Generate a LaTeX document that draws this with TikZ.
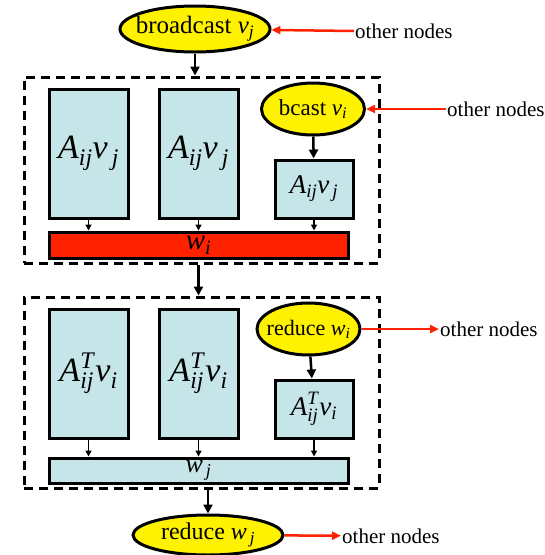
\documentclass[tikz,border=0pt]{standalone}
\usepackage{amsmath}
\usepackage{fontspec}
\setmainfont{Liberation Serif}
\usepackage{xcolor}
\usepackage{tikz}
\usetikzlibrary{shapes.geometric, arrows.meta, positioning}

\definecolor{cellblue}{HTML}{C5E5E8}
\definecolor{hotred}{HTML}{FF2200}
\newcommand{\ti}[1]{\text{\textit{#1}}}
\newcommand{\fs}[1]{\fontsize{#1}{#1}\selectfont}

\begin{document}
\begin{tikzpicture}[
			x=1pt, y=-1pt,
			cell/.style={draw, rectangle, line width=3pt, fill=cellblue, inner sep=0pt},
			bubble/.style={ellipse, draw, line width=3pt, fill=yellow, inner xsep=-10pt, inner ysep=0pt},
			group/.style={draw, rectangle, line width=3pt, dash pattern=on 9pt off 6pt},
			tag/.style={inner sep=1pt, font=\fs{21}},
			link/.style={-{Triangle[length=9pt, width=9pt]}, line width=2.5pt},
			feed/.style={-{Triangle[length=6pt, width=6pt]}, line width=1.5pt},
			remote/.style={-{Triangle[length=9pt, width=8pt]}, line width=2.5pt, hotred}
			]
			\useasboundingbox (0,0) rectangle (545,555);
			
			% Nodes
			\node (bcast_top) [bubble, minimum width=150pt, minimum height=46pt] at (195,29) {\fs{25}broadcast \textit{v}\textsubscript{\textit{j}}};
			\node (other_top) [tag, anchor=west] at (354,31) {other nodes};
			
			\node (group1) [group, minimum width=355pt, minimum height=186pt] at (201.5,170) {};
			\node (mult1) [cell, minimum width=79pt, minimum height=129pt] at (88.5,153.5) {\fs{34}$\ti{A}_{\ti{ij}}\ti{v}_{\,\ti{j}}$};
			\node (mult2) [cell, minimum width=79pt, minimum height=129pt] at (198.5,153.5) {\fs{34}$\ti{A}_{\ti{ij}}\ti{v}_{\,\ti{j}}$};
			\node (bcast_mid) [bubble, minimum width=103pt, minimum height=52pt] at (313,109) {\fs{23}bcast \textit{v}\textsubscript{\textit{i}}};
			\node (mult3) [cell, minimum width=78pt, minimum height=58pt] at (314,189) {\fs{27}$\ti{A}_{\ti{ij}}\ti{v}_{\,\ti{j}}$};
			\node (sum1) [cell, fill=hotred, minimum width=299pt, minimum height=26pt] at (198.5,245) {\fs{29}\textit{w}\textsubscript{\textit{i}}};
			\node (other_mid) [tag, anchor=west] at (446,109) {other nodes};
			
			\node (group2) [group, minimum width=355pt, minimum height=191pt] at (201.5,392.5) {};
			\node (trans1) [cell, minimum width=79pt, minimum height=129pt] at (88.5,373.5) {\fs{34}$\ti{A}_{\ti{ij}}^{\ti{T}}\ti{v}_{\ti{i}}$};
			\node (trans2) [cell, minimum width=79pt, minimum height=129pt] at (198.5,373.5) {\fs{34}$\ti{A}_{\ti{ij}}^{\ti{T}}\ti{v}_{\ti{i}}$};
			\node (reduce_mid) [bubble, minimum width=103pt, minimum height=52pt] at (308.5,329) {\fs{22}reduce \textit{w}\textsubscript{\textit{i}}};
			\node (trans3) [cell, minimum width=78pt, minimum height=58pt] at (314,409) {\fs{27}$\ti{A}_{\ti{ij}}^{\ti{T}}\ti{v}_{\ti{i}}$};
			\node (sum2) [cell, minimum width=299pt, minimum height=25pt] at (198.5,470.5) {\fs{26}\textit{w}\textsubscript{\,\textit{j}}};
			\node (other_red) [tag, anchor=west] at (439,329) {other nodes};
			
			\node (reduce_bot) [bubble, minimum width=150pt, minimum height=40pt] at (208,535) {\fs{24}reduce \textit{w}\textsubscript{\,\textit{j}}};
			\node (other_bot) [tag, anchor=west] at (341,536) {other nodes};
			
			% Connections
			\draw [remote] (other_top.west) -- (bcast_top);
			\draw [link] (bcast_top) -- (bcast_top |- group1.north);
			\draw [remote] (other_mid) -- (bcast_mid);
			\draw [link] (bcast_mid) -- (mult3);
			\draw [feed] (mult1) -- (mult1 |- sum1.north);
			\draw [feed] (mult2) -- (mult2 |- sum1.north);
			\draw [feed] (mult3) -- (mult3 |- sum1.north);
			\draw [link] (group1.south -| sum1) -- (group2.north -| sum1);
			\draw [remote] (reduce_mid) -- (other_red);
			\draw [link] (reduce_mid) -- (trans3);
			\draw [feed] (trans1) -- (trans1 |- sum2.north);
			\draw [feed] (trans2) -- (trans2 |- sum2.north);
			\draw [feed] (trans3) -- (trans3 |- sum2.north);
			\draw [link] (group2.south -| reduce_bot) -- (reduce_bot);
			\draw [remote] (reduce_bot) -- (other_bot);
			
		\end{tikzpicture}
\end{document}
